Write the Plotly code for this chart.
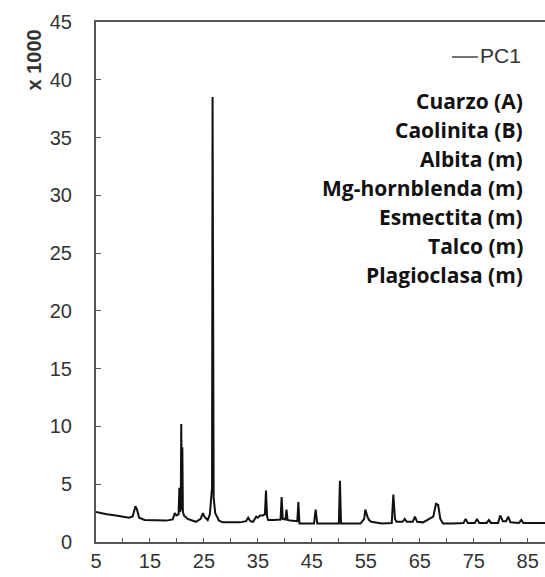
import plotly.graph_objects as go

two_theta = [5.0, 6.0, 7.0, 8.7, 10.0, 11.1, 11.8, 12.3, 12.6, 13.0, 14.0, 16.0, 18.0,
             19.2, 19.6, 19.9, 20.3, 20.45, 20.55, 20.7, 20.8, 20.9, 21.0, 21.1, 21.3, 22.0, 23.5,
             24.4, 24.8, 25.1, 25.7, 26.1, 26.3, 26.5, 26.6, 26.7, 26.8, 27.1, 27.8, 28.5, 30.0,
             31.7, 32.8, 33.2, 33.6, 34.1, 34.7, 35.0, 35.4, 35.9, 36.3, 36.5, 36.7, 36.9,
             38.0, 39.2, 39.4, 39.6, 40.1, 40.3, 40.5, 41.0, 42.3, 42.5, 42.7, 43.5, 45.4, 45.7,
             46.0, 47.0, 48.0, 49.0, 50.0, 50.2, 50.4, 52.0, 54.0, 54.7, 54.9, 55.3, 55.6, 56.0,
             58.0, 59.8, 60.1, 60.4, 60.7, 61.8, 62.2, 62.6, 63.7, 64.1, 64.5, 65.6, 67.5, 68.0,
             68.4, 68.8, 69.3, 71.0, 73.1, 73.5, 73.9, 75.2, 75.6, 76.0, 77.4, 77.8, 78.2, 79.5,
             79.9, 80.4, 81.0, 81.4, 81.8, 83.4, 83.8, 84.2, 86.0, 88.2]
counts_k = [2.6, 2.5, 2.4, 2.3, 2.2, 2.1, 2.2, 3.1, 2.8, 2.1, 1.9, 1.85, 1.85,
            1.95, 2.5, 2.3, 2.4, 4.7, 2.6, 2.8, 10.2, 2.9, 8.2, 2.6, 2.3, 2.0, 1.75,
            2.0, 2.5, 2.2, 1.9, 2.4, 4.1, 4.7, 38.5, 4.2, 3.8, 2.5, 1.85, 1.7, 1.67,
            1.7, 1.8, 2.1, 1.8, 1.75, 2.2, 2.1, 2.3, 2.3, 2.4, 4.45, 2.2, 1.9,
            1.9, 1.95, 3.9, 2.0, 1.95, 2.8, 1.9, 1.85, 1.8, 3.45, 1.6, 1.6, 1.6, 2.8,
            1.6, 1.6, 1.6, 1.6, 1.6, 5.3, 1.6, 1.6, 1.6, 2.0, 2.8, 2.2, 1.9, 1.75,
            1.6, 1.65, 4.1, 2.0, 1.75, 1.75, 2.0, 1.75, 1.75, 2.2, 1.75, 1.7, 2.2, 3.3,
            3.2, 2.0, 1.6, 1.6, 1.65, 2.0, 1.65, 1.65, 2.0, 1.65, 1.65, 1.9, 1.65, 1.65,
            2.3, 1.8, 1.8, 2.2, 1.7, 1.65, 1.9, 1.65, 1.65, 1.65]

minerals = ["Cuarzo (A)", "Caolinita (B)", "Albita (m)", "Mg-hornblenda (m)",
            "Esmectita (m)", "Talco (m)", "Plagioclasa (m)"]
x_labels = [5, 15, 25, 35, 45, 55, 65, 75, 85]
y_labels = [0, 5, 10, 15, 20, 25, 30, 35, 40, 45]

axis_col = "#555555"
txt_col = "#333333"


def px_x(p):
    return (p - 96) / 449


def px_y(p):
    return (542 - p) / 520


fig = go.Figure()
fig.add_trace(go.Scatter(x=two_theta, y=counts_k, mode="lines",
                         line=dict(color="#111111", width=2), name="PC1",
                         showlegend=False))

fig.update_layout(
    width=545, height=577,
    margin=dict(l=96, r=0, t=22, b=35),
    paper_bgcolor="white", plot_bgcolor="white",
    font=dict(family="Liberation Sans, Arial", size=20, color=txt_col),
    xaxis=dict(range=[5, 88.2], tickvals=x_labels, ticks="inside", ticklen=4,
               tickcolor=axis_col, tickwidth=1,
               minor=dict(dtick=5, tick0=5, ticks="inside", ticklen=4, tickcolor=axis_col),
               showline=True, linecolor=axis_col, linewidth=2, mirror=True,
               showgrid=False, zeroline=False,
               tickfont=dict(size=20, color=txt_col)),
    yaxis=dict(range=[0, 45], tickvals=y_labels, ticks="inside", ticklen=5,
               tickcolor=axis_col, tickwidth=1,
               showline=True, linecolor=axis_col, linewidth=2,
               showgrid=False, zeroline=False, ticklabelstandoff=18,
               tickfont=dict(size=20, color=txt_col)),
)

# y-axis multiplier label
fig.add_annotation(text="<b>x 1000</b>", xref="paper", yref="paper",
                   x=px_x(34), y=px_y(28), xanchor="center", yanchor="top",
                   textangle=-90, showarrow=False,
                   font=dict(size=20, color=txt_col, family="Liberation Sans, Arial"))

# legend-like label: short line + text
fig.add_shape(type="line", xref="paper", yref="paper",
              x0=px_x(452), x1=px_x(478), y0=px_y(57), y1=px_y(57),
              line=dict(color="#444444", width=1.5))
fig.add_annotation(text="PC1", xref="paper", yref="paper",
                   x=px_x(478), y=px_y(56), xanchor="left", yanchor="middle",
                   showarrow=False, font=dict(size=21, color=txt_col, family="Liberation Sans, Arial"))

for i, m in enumerate(minerals):
    py = 101 + i * 29
    fig.add_annotation(text="<b>" + m + "</b>", xref="paper", yref="paper",
                       x=px_x(525), y=px_y(py), xanchor="right", yanchor="middle",
                       showarrow=False, font=dict(size=21, color="#111111", family="Open Sans"))

fig.write_html("out.html")
